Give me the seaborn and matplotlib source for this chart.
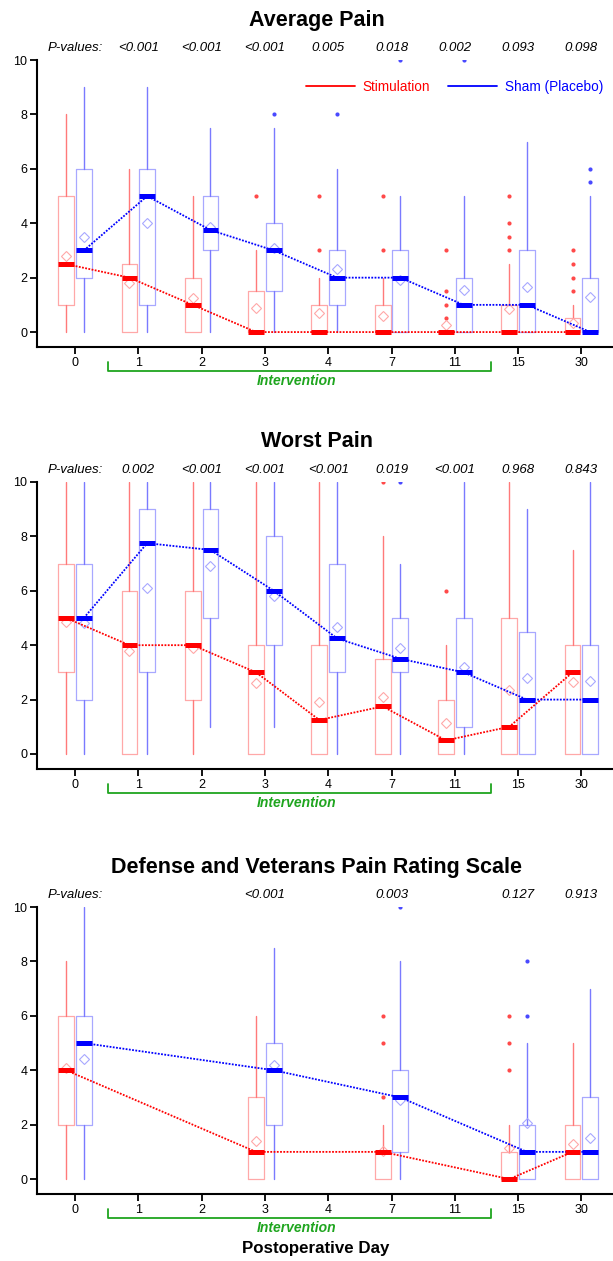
import numpy as np
import pandas as pd
import matplotlib
matplotlib.use('Agg')
import matplotlib.pyplot as plt
import matplotlib.transforms as mtransforms
from matplotlib.lines import Line2D
import seaborn as sns

# dny po operaci (kategorie na ose x)
days = ['0', '1', '2', '3', '4', '7', '11', '15', '30']

# krabice: (dolni fous, q1, median, q3, horni fous, prumer)
avg_stim_box = [(0, 1, 2.5, 5, 8, 2.8), (0, 0, 2, 2.5, 6, 1.8), (0, 0, 1, 2, 5, 1.25),
                (0, 0, 0, 1.5, 3, 0.9), (0, 0, 0, 1, 2, 0.7), (0, 0, 0, 1, 2, 0.6),
                (0, 0, 0, 0, 0, 0.25), (0, 0, 0, 1, 2.5, 0.85), (0, 0, 0, 0.5, 1, 0.35)]
avg_stim_fliers = [[], [], [], [5], [5, 3], [5, 3], [3, 1.5, 1, 0.5], [5, 4, 3.5, 3], [3, 2.5, 2, 1.5]]
avg_sham_box = [(0, 2, 3, 6, 9, 3.5), (0, 1, 5, 6, 9, 4.0), (0, 3, 3.75, 5, 7.5, 3.85),
                (0, 1.5, 3, 4, 7.5, 3.1), (0, 1, 2, 3, 6, 2.3), (0, 0, 2, 3, 5, 1.9),
                (0, 0, 1, 2, 5, 1.55), (0, 0, 1, 3, 7, 1.65), (0, 0, 0, 2, 5, 1.3)]
avg_sham_fliers = [[], [], [], [8], [8], [10], [10], [], [6, 5.5]]
avg_pvals = ['<0.001', '<0.001', '<0.001', '0.005', '0.018', '0.002', '0.093', '0.098']

worst_stim_box = [(0, 3, 5, 7, 10, 4.85), (0, 0, 4, 6, 10, 3.8), (0, 2, 4, 6, 10, 3.9),
                  (0, 0, 3, 4, 10, 2.6), (0, 0, 1.25, 4, 10, 1.9), (0, 0, 1.75, 3.5, 8, 2.1),
                  (0, 0, 0.5, 2, 4, 1.15), (0, 0, 1, 5, 10, 2.35), (0, 0, 3, 4, 7.5, 2.65)]
worst_stim_fliers = [[], [], [], [], [], [10], [6], [], []]
worst_sham_box = [(0, 2, 5, 7, 10, 4.8), (0, 3, 7.75, 9, 10, 6.1), (1, 5, 7.5, 9, 10, 6.9),
                  (1, 4, 6, 8, 10, 5.8), (0, 3, 4.25, 7, 10, 4.65), (0, 3, 3.5, 5, 7, 3.9),
                  (0, 1, 3, 5, 10, 3.2), (0, 0, 2, 4.5, 9, 2.8), (0, 0, 2, 4, 10, 2.7)]
worst_sham_fliers = [[], [], [], [], [], [10], [], [], []]
worst_pvals = ['0.002', '<0.001', '<0.001', '<0.001', '0.019', '<0.001', '0.968', '0.843']

# DVPRS jen ve dnech 0, 3, 7, 15, 30
dvprs_days = ['0', '3', '7', '15', '30']
dvprs_stim_box = [(0, 2, 4, 6, 8, 4.1), (0, 0, 1, 3, 6, 1.4), (0, 0, 1, 1, 2, 1.05),
                  (0, 0, 0, 1, 2, 1.15), (0, 0, 1, 2, 5, 1.3)]
dvprs_stim_fliers = [[], [], [6, 5, 3], [6, 5, 4], []]
dvprs_sham_box = [(0, 2, 5, 6, 10, 4.4), (0, 2, 4, 5, 8.5, 4.2), (0, 1, 3, 4, 8, 2.9),
                  (0, 0, 1, 2, 5, 2.05), (0, 0, 1, 3, 7, 1.5)]
dvprs_sham_fliers = [[], [], [10], [8, 6], []]
dvprs_pvals = ['<0.001', '0.003', '0.127', '0.913']

titles = ['Average Pain', 'Worst Pain', 'Defense and Veterans Pain Rating Scale']

sns.set_style('ticks')
plt.rcParams['font.family'] = ['Liberation Sans', 'DejaVu Sans']
plt.rcParams['text.color'] = 'black'
plt.rcParams['axes.labelcolor'] = 'black'

RED, BLUE, GREEN = '#FF0000', '#0000FF', '#1FA51F'
stim_col = dict(dark=RED, light='#FFA8A8', whisk='#FF7A7A', flier='#FF4A4A')
sham_col = dict(dark=BLUE, light='#A8A8FF', whisk='#7A7AFF', flier='#4A4AFF')


def draw_group(ax, pos, boxes, fliers, col, off):
    x = np.array(pos, dtype=float) + off
    stats = [dict(whislo=b[0], q1=b[1], med=b[2], q3=b[3], whishi=b[4], mean=b[5], fliers=f)
             for b, f in zip(boxes, fliers)]
    ax.bxp(stats, positions=x, widths=0.25, showmeans=True, showcaps=False, manage_ticks=False,
           boxprops=dict(color=col['light'], linewidth=0.9),
           whiskerprops=dict(color=col['whisk'], linewidth=1.0),
           medianprops=dict(color=col['dark'], linewidth=3.6, solid_capstyle='butt', zorder=4),
           meanprops=dict(marker='D', markerfacecolor='none', markeredgecolor=col['light'],
                          markersize=5, markeredgewidth=0.8),
           flierprops=dict(marker='o', markerfacecolor=col['flier'], markeredgecolor='none',
                           markersize=3))
    med = pd.DataFrame({'x': x, 'med': [b[2] for b in boxes]})
    sns.lineplot(data=med, x='x', y='med', color=col['dark'], linestyle=(0, (1, 0.8)),
                 linewidth=1.3, ax=ax, zorder=3)


fig = plt.figure(figsize=(6.13, 12.61), dpi=100)
bottoms = [0.7248, 0.3902, 0.0531]

panels = [
    (days, avg_stim_box, avg_stim_fliers, avg_sham_box, avg_sham_fliers, avg_pvals),
    (days, worst_stim_box, worst_stim_fliers, worst_sham_box, worst_sham_fliers, worst_pvals),
    (dvprs_days, dvprs_stim_box, dvprs_stim_fliers, dvprs_sham_box, dvprs_sham_fliers, dvprs_pvals),
]

for i, (pd_days, sb, sf, hb, hf, pv) in enumerate(panels):
    ax = fig.add_axes([0.0604, bottoms[i], 0.9397, 0.2276])
    pos = [days.index(d) for d in pd_days]
    draw_group(ax, pos, sb, sf, stim_col, -0.14)
    draw_group(ax, pos, hb, hf, sham_col, 0.14)

    ax.set_xlim(-0.6, 8.5)
    ax.set_ylim(-0.55, 10)
    ax.set_xticks(range(len(days)), days)
    ax.set_yticks([0, 2, 4, 6, 8, 10])
    ax.set_xlabel('')
    ax.set_ylabel('')
    sns.despine(ax=ax)
    for s in ['left', 'bottom']:
        ax.spines[s].set_linewidth(1.5)
        ax.spines[s].set_color('black')
    ax.tick_params(direction='out', length=5, width=1.3, labelsize=9, pad=2, colors='black')

    trans = mtransforms.blended_transform_factory(ax.transData, ax.transAxes)
    ax.text(0.486, 1 + 40 / 287, titles[i], transform=ax.transAxes, ha='center', va='center',
            fontsize=15.5, fontweight='bold', color='black')
    ax.text(0, 1.042, 'P-values:', transform=trans, ha='center', va='center',
            fontstyle='italic', fontsize=9.5, color='black')
    for p, txt in zip(pos[1:] if i == 2 else range(1, 9), pv):
        ax.text(p, 1.042, txt, transform=trans, ha='center', va='center',
                fontstyle='italic', fontsize=9.5, color='black')

    # zavorka intervence
    ax.plot([0.52, 0.52, 6.57, 6.57], [-0.052, -0.084, -0.084, -0.052], color=GREEN, lw=1.3,
            transform=trans, clip_on=False)
    ax.text(3.5, -0.118, 'Intervention', color=GREEN, fontweight='bold', fontstyle='italic',
            ha='center', va='center', transform=trans, fontsize=10)

    if i == 0:
        handles = [Line2D([], [], color=RED, lw=1.3), Line2D([], [], color=BLUE, lw=1.3)]
        ax.legend(handles, ['Stimulation', 'Sham (Placebo)'], ncol=2, frameon=False,
                  loc='center right', bbox_to_anchor=(1.0, 1 - 27 / 287), fontsize=9.8,
                  handlelength=3.6, handletextpad=0.6, columnspacing=1.3,
                  labelcolor=[RED, BLUE], borderaxespad=0.3)

fig.text(316 / 613, 1 - 1248 / 1261, 'Postoperative Day', ha='center', va='center',
         fontsize=12.2, fontweight='bold', color='black')

fig.savefig('out.png', dpi=100)
